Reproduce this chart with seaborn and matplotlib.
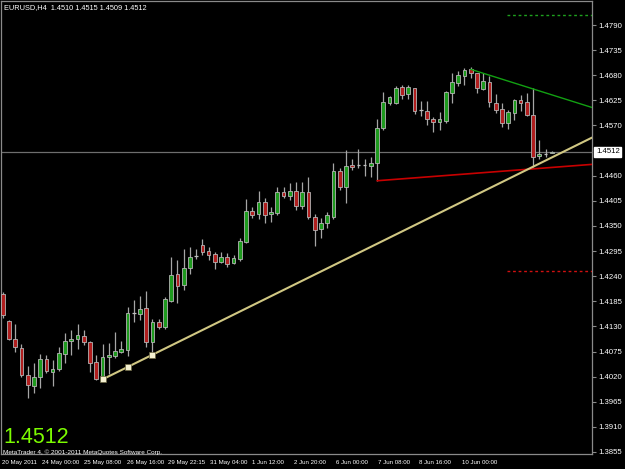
import matplotlib
matplotlib.use("Agg")
import matplotlib.pyplot as plt
import matplotlib.transforms as mtransforms
import numpy as np
import pandas as pd
import seaborn as sns

# ---------------- data ----------------
header_text = "EURUSD,H4  1.4510 1.4515 1.4509 1.4512"
bid = 1.4512
copyright_text = "MetaTrader 4, \u00a9 2001-2011 MetaQuotes Software Corp."

opens = [1.4201, 1.4142, 1.4102, 1.4083, 1.4023, 1.3999, 1.4019, 1.4059, 1.4030, 1.4037,
         1.4069, 1.4098, 1.4102, 1.4109, 1.4096, 1.4052, 1.4015, 1.4063, 1.4065, 1.4074,
         1.4078, 1.4159, 1.4157, 1.4170, 1.4096, 1.4140, 1.4129, 1.4186, 1.4245, 1.4221,
         1.4258, 1.4284, 1.4308, 1.4295, 1.4288, 1.4271, 1.4282, 1.4269, 1.4278, 1.4315,
         1.4383, 1.4376, 1.4402, 1.4376, 1.4378, 1.4424, 1.4415, 1.4426, 1.4394, 1.4424,
         1.4370, 1.4343, 1.4356, 1.4370, 1.4470, 1.4435, 1.4483, 1.4483, 1.4483, 1.4481,
         1.4488, 1.4564, 1.4619, 1.4619, 1.4654, 1.4639, 1.4652, 1.4604, 1.4602, 1.4584,
         1.4578, 1.4580, 1.4641, 1.4663, 1.4678, 1.4694, 1.4685, 1.4650, 1.4665, 1.4619,
         1.4606, 1.4575, 1.4597, 1.4626, 1.4621, 1.4593, 1.4503, 1.4507, 1.4510]
highs = [1.4205, 1.4144, 1.4135, 1.4091, 1.4043, 1.4050, 1.4069, 1.4067, 1.4056, 1.4085,
         1.4115, 1.4122, 1.4135, 1.4122, 1.4098, 1.4067, 1.4091, 1.4093, 1.4118, 1.4098,
         1.4172, 1.4188, 1.4197, 1.4207, 1.4146, 1.4146, 1.4194, 1.4282, 1.4275, 1.4299,
         1.4304, 1.4299, 1.4321, 1.4304, 1.4293, 1.4293, 1.4291, 1.4286, 1.4323, 1.4409,
         1.4391, 1.4426, 1.4411, 1.4391, 1.4435, 1.4435, 1.4444, 1.4446, 1.4446, 1.4457,
         1.4376, 1.4367, 1.4380, 1.4488, 1.4477, 1.4516, 1.4497, 1.4518, 1.4497, 1.4501,
         1.4584, 1.4643, 1.4634, 1.4656, 1.4659, 1.4659, 1.4653, 1.4624, 1.4624, 1.4588,
         1.4599, 1.4645, 1.4685, 1.4689, 1.4696, 1.4697, 1.4686, 1.4685, 1.4678, 1.4639,
         1.4619, 1.4604, 1.4628, 1.4637, 1.4641, 1.4652, 1.4538, 1.4518, 1.4515]
lows = [1.4148, 1.4100, 1.4074, 1.4019, 1.3973, 1.3984, 1.3995, 1.4028, 1.3999, 1.4032,
        1.4050, 1.4067, 1.4080, 1.4089, 1.4030, 1.4013, 1.4013, 1.4026, 1.4061, 1.4072,
        1.4065, 1.4140, 1.4144, 1.4085, 1.4067, 1.4124, 1.4124, 1.4183, 1.4181, 1.4210,
        1.4245, 1.4278, 1.4286, 1.4275, 1.4256, 1.4269, 1.4260, 1.4267, 1.4273, 1.4313,
        1.4367, 1.4365, 1.4356, 1.4359, 1.4374, 1.4411, 1.4407, 1.4385, 1.4387, 1.4365,
        1.4306, 1.4323, 1.4345, 1.4365, 1.4429, 1.4400, 1.4472, 1.4477, 1.4459, 1.4457,
        1.4448, 1.4560, 1.4615, 1.4617, 1.4628, 1.4628, 1.4595, 1.4591, 1.4571, 1.4556,
        1.4560, 1.4575, 1.4619, 1.4656, 1.4659, 1.4674, 1.4641, 1.4648, 1.4610, 1.4597,
        1.4567, 1.4562, 1.4582, 1.4602, 1.4591, 1.4479, 1.4497, 1.4501, 1.4509]
closes = [1.4155, 1.4102, 1.4085, 1.4023, 1.4002, 1.4019, 1.4059, 1.4032, 1.4037, 1.4072,
          1.4098, 1.4102, 1.4111, 1.4096, 1.4050, 1.4015, 1.4063, 1.4067, 1.4076, 1.4080,
          1.4159, 1.4159, 1.4168, 1.4096, 1.4140, 1.4129, 1.4190, 1.4242, 1.4218, 1.4258,
          1.4282, 1.4284, 1.4293, 1.4286, 1.4271, 1.4282, 1.4267, 1.4280, 1.4317, 1.4383,
          1.4374, 1.4402, 1.4374, 1.4380, 1.4424, 1.4415, 1.4426, 1.4394, 1.4424, 1.4370,
          1.4341, 1.4356, 1.4374, 1.4470, 1.4435, 1.4481, 1.4479, 1.4483, 1.4483, 1.4488,
          1.4564, 1.4621, 1.4632, 1.4652, 1.4637, 1.4654, 1.4602, 1.4604, 1.4584, 1.4578,
          1.4584, 1.4643, 1.4665, 1.4681, 1.4691, 1.4685, 1.4652, 1.4667, 1.4621, 1.4604,
          1.4575, 1.4599, 1.4626, 1.4619, 1.4593, 1.4501, 1.4507, 1.4507, 1.4512]

time_labels = ["20 May 2011", "24 May 00:00", "25 May 08:00", "26 May 16:00", "29 May 22:15",
               "31 May 04:00", "1 Jun 12:00", "2 Jun 20:00", "6 Jun 00:00", "7 Jun 08:00",
               "8 Jun 16:00", "10 Jun 00:00"]
time_label_bar = [-0.16, 6.30, 13.03, 19.92, 26.49, 33.25, 39.95, 46.68, 53.41, 60.14, 66.71, 73.61]

price_ticks = [1.4790, 1.4735, 1.4680, 1.4625, 1.4570, 1.4460, 1.4405, 1.4350, 1.4295,
               1.4240, 1.4185, 1.4130, 1.4075, 1.4020, 1.3965, 1.3910, 1.3855]

# trend lines (anchor bar index, price)
yellow_bars = [16, 24]
yellow_prices = [1.4014, 1.4068]
yellow_handles = [16, 20, 24]
red_bars = [60, 85]
red_prices = [1.4449, 1.4475]
green_bars = [75, 85]
green_prices = [1.4693, 1.4650]
level_green = 1.4812
level_red = 1.4252
level_start_bar = 80.8

# ---------------- style ----------------
sns.set_style("dark", {"axes.facecolor": "black", "figure.facecolor": "black",
                       "axes.edgecolor": "#808080", "grid.color": "black"})
plt.rcParams['font.family'] = ['Liberation Sans', 'DejaVu Sans']

W, H = 625, 469
X0, DX = 2.7, 6.24           # pixel position of bar 0 and bar spacing
xmin = -0.2
xmax = (592 - X0) / DX
ax_left_px = X0 + xmin * DX
ymin, ymax = 1.38506, 1.48426

fig = plt.figure(figsize=(W / 100, H / 100), dpi=100)
fig.patch.set_facecolor("black")
ax = fig.add_axes([ax_left_px / W, (H - 454) / H, (592 - ax_left_px) / W, 453 / H])
ax.set_facecolor("black")
ax.set_xlim(xmin, xmax)
ax.set_ylim(ymin, ymax)
ax.grid(False)

df = pd.DataFrame({"o": opens, "h": highs, "l": lows, "c": closes})
df["j"] = np.arange(len(df))

# bid line
ax.axhline(bid, color="#6e6e6e", lw=0.9, zorder=1)

# wicks
ax.vlines(df["j"], df["l"], df["h"], color="#a6a6a6", lw=0.9, zorder=2)

bw = 0.6
bull = df[df["c"] > df["o"]]
bear = df[df["c"] < df["o"]]
doji = df[df["c"] == df["o"]]
ax.bar(bull["j"], bull["c"] - bull["o"], bottom=bull["o"], width=bw,
       color="#1e9a1e", edgecolor="#b4b4b4", linewidth=0.6, zorder=3)
ax.bar(bear["j"], bear["o"] - bear["c"], bottom=bear["c"], width=bw,
       color="#b01e1e", edgecolor="#b4b4b4", linewidth=0.6, zorder=3)
ax.hlines(doji["o"], doji["j"] - bw / 2, doji["j"] + bw / 2, color="#c0c0c0", lw=0.9, zorder=3)


def ray(xs, ys):
    slope = (ys[1] - ys[0]) / (xs[1] - xs[0])
    return [xs[0], xmax], [ys[0], ys[0] + slope * (xmax - xs[0])], slope


# trend lines via seaborn
rx, ry, _ = ray(red_bars, red_prices)
sns.lineplot(x=rx, y=ry, ax=ax, color="#c80000", linewidth=1.2, estimator=None, sort=False, zorder=4)
gx, gy, _ = ray(green_bars, green_prices)
sns.lineplot(x=gx, y=gy, ax=ax, color="#12a012", linewidth=1.0, estimator=None, sort=False, zorder=4)
yx, yy, yslope = ray(yellow_bars, yellow_prices)
sns.lineplot(x=yx, y=yy, ax=ax, color="#d0c783", linewidth=1.5, estimator=None, sort=False, zorder=5)
hy = [yellow_prices[0] + yslope * (b - yellow_bars[0]) for b in yellow_handles]
sns.scatterplot(x=yellow_handles, y=hy, ax=ax, marker="s", s=14, color="#f4f0d0",
                edgecolor="#6a6440", linewidth=0.5, zorder=6)

# dashed levels
ax.plot([level_start_bar, xmax], [level_green, level_green], color="#1ea01e", lw=1.0,
        linestyle=(0, (2, 2)), zorder=4)
ax.plot([level_start_bar, xmax], [level_red, level_red], color="#d01010", lw=1.0,
        linestyle=(0, (2, 2)), zorder=4)

# axes / ticks
for s in ax.spines.values():
    s.set_color("#8a8a8a")
    s.set_linewidth(0.9)
ax.yaxis.tick_right()
ax.set_yticks(price_ticks)
ax.set_yticklabels([f"{v:.4f}" for v in price_ticks])
ax.tick_params(axis="y", colors="#8a8a8a", labelcolor="white", labelsize=5.6,
               length=3, width=0.8, pad=1.5, direction="out")
ax.set_xticks(time_label_bar)
ax.set_xticklabels(time_labels)
ax.tick_params(axis="x", colors="#8a8a8a", labelcolor="white", labelsize=4.4,
               length=3, width=0.8, pad=1.0, direction="out")
for lbl in ax.get_xticklabels():
    lbl.set_ha("left")
ax.set_xlabel("")
ax.set_ylabel("")

# bid box on the price scale
trans = mtransforms.blended_transform_factory(ax.transAxes, ax.transData)
trans = trans + mtransforms.ScaledTranslation(4 / 100, 0, fig.dpi_scale_trans)
ax.text(1.0, bid, f"{bid:.4f}", transform=trans, ha="left", va="center", fontsize=5.6,
        color="black", bbox=dict(boxstyle="square,pad=0.2", fc="white", ec="white"), zorder=10,
        clip_on=False)

# texts
fig.text(4 / W, 1 - 8 / H, header_text, ha="left", va="center", color="white", fontsize=5.3)
fig.text(3 / W, 1 - 443 / H, f"{bid:.4f}", ha="left", va="baseline", color="#7cfc00", fontsize=15.5)
fig.text(3 / W, 1 - 452 / H, copyright_text, ha="left", va="center", color="white", fontsize=4.6)

fig.savefig("out.png", dpi=100, facecolor="black")
